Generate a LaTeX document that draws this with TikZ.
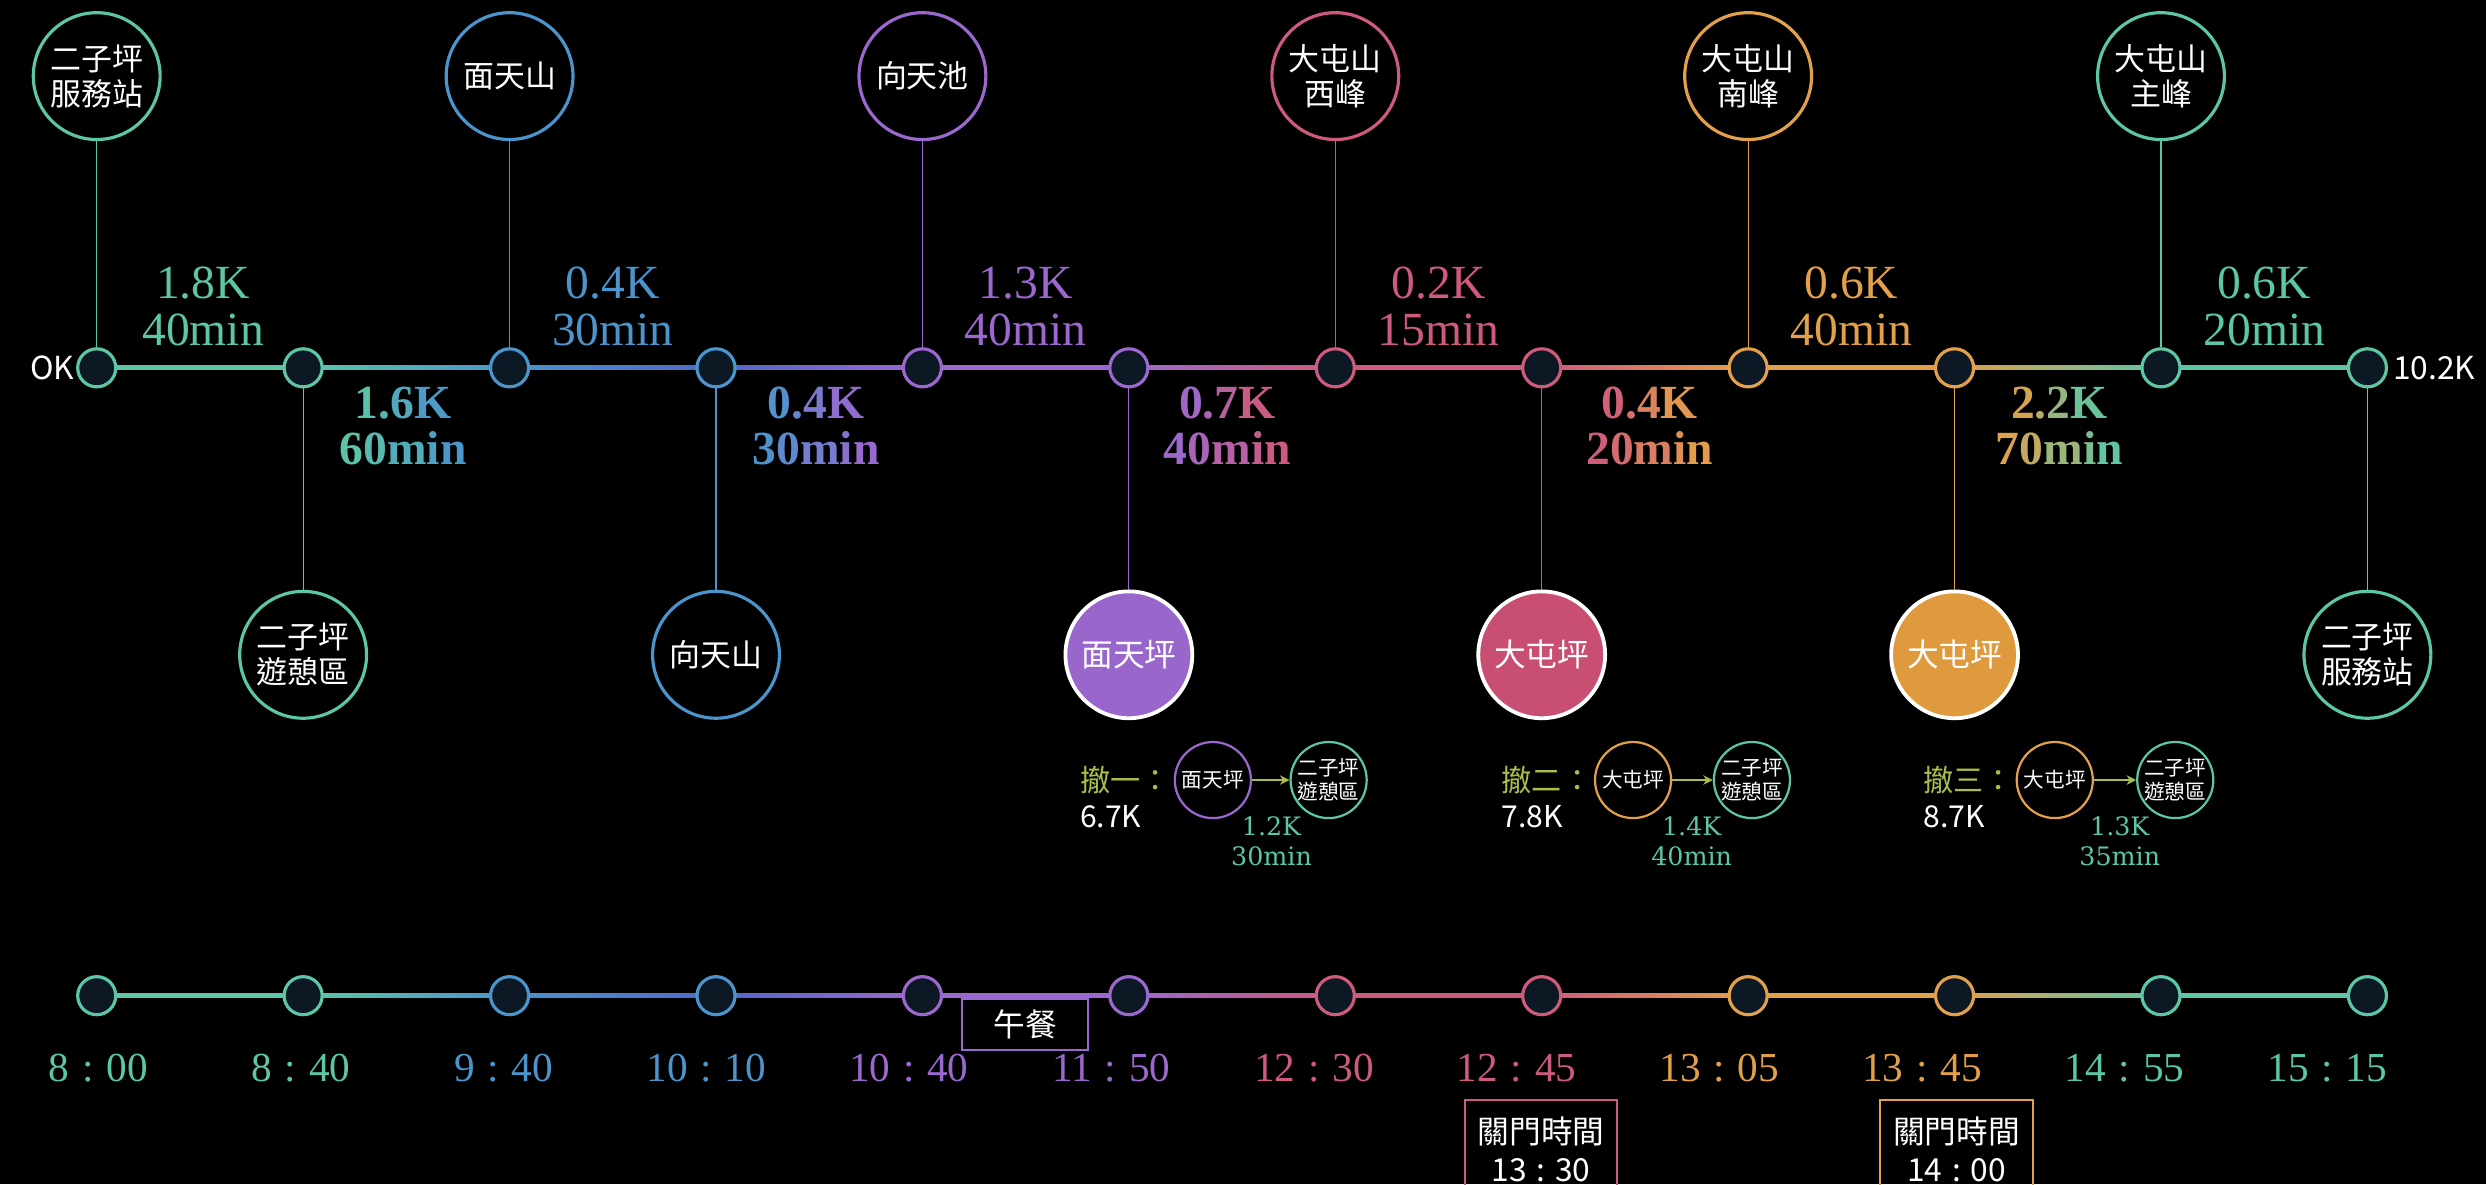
\documentclass[tikz,border=0pt]{standalone}
\usepackage{fontspec}
\setmainfont{Liberation Serif}
\newfontfamily\cjk{Noto Sans CJK TC}
\newfontfamily\slab{DejaVu Serif}
\usetikzlibrary{calc,arrows.meta}
\pgfdeclarelayer{back}
\pgfdeclarelayer{bars}
\pgfsetlayers{back,bars,main}

\definecolor{cg}{HTML}{5CC6A6}
\definecolor{cb}{HTML}{4B94CC}
\definecolor{cbv}{HTML}{5068C8}
\definecolor{cp}{HTML}{9B68CF}
\definecolor{ck}{HTML}{CE5A7C}
\definecolor{co}{HTML}{E3A04A}
\definecolor{cy}{HTML}{A8BE48}
\definecolor{nodefill}{HTML}{0C1824}
\definecolor{fillp}{HTML}{9966CC}
\definecolor{fillk}{HTML}{C94F72}
\definecolor{fillo}{HTML}{E09A3E}

% colour of one character inside a two-colour gradient label
\newcommand\gr[4]{\textcolor{#2!#3!#1}{#4}}
\newcommand\gfour[6]{\gr{#1}{#2}{10}{#3}\gr{#1}{#2}{32}{#4}\gr{#1}{#2}{58}{#5}\gr{#1}{#2}{88}{#6}}
\newcommand\gfive[7]{\gr{#1}{#2}{4}{#3}\gr{#1}{#2}{26}{#4}\gr{#1}{#2}{52}{#5}\gr{#1}{#2}{76}{#6}\gr{#1}{#2}{96}{#7}}
% wide colon used in clock times
\newcommand\tcolon{\makebox[0.9em]{:}}

\tikzset{
  waypt/.style={circle, draw=#1, line width=2pt, fill=nodefill, minimum size=24pt, inner sep=0pt},
  peak/.style={circle, draw=#1, line width=2pt, fill=black, minimum size=80pt, inner sep=0pt,
    text=white, align=center, font=\cjk\fontsize{19.5}{22}\selectfont},
  camp/.style={circle, draw=white, line width=2.4pt, fill=#1, minimum size=80pt, inner sep=0pt,
    text=white, font=\cjk\fontsize{20}{24}\selectfont},
  stem/.style={draw=#1, line width=0.7pt},
  seglabel/.style={text=#1, anchor=base, align=center, inner sep=0pt, font=\fontsize{30}{30}\selectfont},
  boldlabel/.style={anchor=base, align=center, inner sep=0pt, font=\bfseries\fontsize{30}{29}\selectfont},
  minicirc/.style={circle, draw=#1, line width=1.4pt, fill=black, minimum size=48pt, inner sep=0pt,
    text=white, align=center, font=\cjk\fontsize{13}{15}\selectfont},
  retreatlbl/.style={anchor=west, inner sep=0pt, text=cy, font=\cjk\fontsize{19}{22}\selectfont},
  distlbl/.style={anchor=west, inner sep=0pt, text=white, font=\cjk\fontsize{19}{22}\selectfont},
  slablbl/.style={anchor=base, align=center, inner sep=0pt, text=cg, font=\slab\fontsize{16}{19}\selectfont},
  backarrow/.style={draw=cy, line width=1.4pt, -{Stealth[length=6pt,width=6pt]}},
  timelbl/.style={text=#1, anchor=base, inner sep=0pt, font=\fontsize{26}{26}\selectfont},
  notebox/.style={draw=#1, line width=1.3pt, text=white, align=center, inner sep=0pt,
    font=\cjk\fontsize{20}{24}\selectfont},
  endlbl/.style={inner sep=0pt, text=white, font=\cjk\fontsize{20}{24}\selectfont}
}

\begin{document}
\begin{tikzpicture}[x=1pt, y=-1pt]
\useasboundingbox (0,0) rectangle (1568,747);
\begin{pgfonlayer}{back}
  \fill[black] (0,0) rectangle (1568,747);
\end{pgfonlayer}

% stations on the route line and on the clock line
\foreach \i/\col in {0/cg,1/cg,2/cb,3/cb,4/cp,5/cp,6/ck,7/ck,8/co,9/co,10/cg,11/cg}{
  \node[waypt=\col] (m\i) at ({61+130.2*\i},232) {};
  \node[waypt=\col] (t\i) at ({61+130.2*\i},628) {};
}

% coloured track between consecutive stations
\begin{pgfonlayer}{bars}
\foreach \a/\b/\p/\q in {0/1/cg/cg,1/2/cg/cb,2/3/cb/cbv,3/4/cbv/cp,4/5/cp/cp,5/6/cp/ck,
                         6/7/ck/ck,7/8/ck/co,8/9/co/co,9/10/co/cg,10/11/cg/cg}{
  \shade[left color=\p, right color=\q] ($(m\a.center)+(0,-1.2)$) rectangle ($(m\b.center)+(0,1.2)$);
  \shade[left color=\p, right color=\q] ($(t\a.center)+(0,-1.2)$) rectangle ($(t\b.center)+(0,1.2)$);
}
\end{pgfonlayer}

% start and end distances
\node[endlbl, anchor=east] (startk) at ($(m0.west)+(-1,0)$) {OK};
\node[endlbl, anchor=west] (endk) at ($(m11.east)+(3,0)$) {10.2K};

% peaks above the route
\node[peak=cg] (u0) at ($(m0)+(0,-184)$) {二子坪\\服務站};
\node[peak=cb] (u2) at ($(m2)+(0,-184)$) {面天山};
\node[peak=cp] (u4) at ($(m4)+(0,-184)$) {向天池};
\node[peak=ck] (u6) at ($(m6)+(0,-184)$) {大屯山\\西峰};
\node[peak=co] (u8) at ($(m8)+(0,-184)$) {大屯山\\南峰};
\node[peak=cg] (u10) at ($(m10)+(0,-184)$) {大屯山\\主峰};
\draw[stem=cg] (u0) -- (m0);
\draw[stem=cb] (u2) -- (m2);
\draw[stem=cp] (u4) -- (m4);
\draw[stem=ck] (u6) -- (m6);
\draw[stem=co] (u8) -- (m8);
\draw[stem=cg] (u10) -- (m10);

% places below the route
\node[peak=cg] (d1) at ($(m1)+(0,181)$) {二子坪\\遊憩區};
\node[peak=cb] (d3) at ($(m3)+(0,181)$) {向天山};
\node[camp=fillp] (d5) at ($(m5)+(0,181)$) {面天坪};
\node[camp=fillk] (d7) at ($(m7)+(0,181)$) {大屯坪};
\node[camp=fillo] (d9) at ($(m9)+(0,181)$) {大屯坪};
\node[peak=cg] (d11) at ($(m11)+(0,181)$) {二子坪\\服務站};
\draw[stem=cg] (m1) -- (d1);
\draw[stem=cb] (m3) -- (d3);
\draw[stem=cp] (m5) -- (d5);
\draw[stem=ck] (m7) -- (d7);
\draw[stem=co] (m9) -- (d9);
\draw[stem=cg] (m11) -- (d11);

% leg distances and times above the track (anchor = baseline of the last line)
\node[seglabel=cg] (l0) at ($(m0)!0.5!(m1)+(2,-14)$) {1.8K\\40min};
\node[seglabel=cb] (l2) at ($(m2)!0.5!(m3)+(0,-14)$) {0.4K\\30min};
\node[seglabel=cp] (l4) at ($(m4)!0.5!(m5)+(0,-14)$) {1.3K\\40min};
\node[seglabel=ck] (l6) at ($(m6)!0.5!(m7)+(0,-14)$) {0.2K\\15min};
\node[seglabel=co] (l8) at ($(m8)!0.5!(m9)+(0,-14)$) {0.6K\\40min};
\node[seglabel=cg] (l10) at ($(m10)!0.5!(m11)+(0,-14)$) {0.6K\\20min};

% leg distances and times below the track
\node[boldlabel] (l1) at ($(m1)!0.5!(m2)+(-2,61)$) {\gfour{cg}{cb}{1}{.}{6}{K}\\\gfive{cg}{cb}{6}{0}{m}{i}{n}};
\node[boldlabel] (l3) at ($(m3)!0.5!(m4)+(-2,61)$) {\gfour{cb}{cp}{0}{.}{4}{K}\\\gfive{cb}{cp}{3}{0}{m}{i}{n}};
\node[boldlabel] (l5) at ($(m5)!0.5!(m6)+(-3,61)$) {\gfour{cp}{ck}{0}{.}{7}{K}\\\gfive{cp}{ck}{4}{0}{m}{i}{n}};
\node[boldlabel] (l7) at ($(m7)!0.5!(m8)+(3,61)$) {\gfour{ck}{co}{0}{.}{4}{K}\\\gfive{ck}{co}{2}{0}{m}{i}{n}};
\node[boldlabel] (l9) at ($(m9)!0.5!(m10)+(1,61)$) {\gfour{co}{cg}{2}{.}{2}{K}\\\gfive{co}{cg}{7}{0}{m}{i}{n}};

% escape routes
\node[retreatlbl] (r1) at (681,492) {撤一：};
\node[distlbl] (k1) at (681,515) {6.7K};
\node[minicirc=cp] (a1) at (765,492) {面天坪};
\node[minicirc=cg] (b1) at (838,492) {二子坪\\遊憩區};
\draw[backarrow] (a1) -- (b1);
\node[slablbl] (s1) at (802,546) {1.2K\\30min};

\node[retreatlbl] (r2) at (947,492) {撤二：};
\node[distlbl] (k2) at (947,515) {7.8K};
\node[minicirc=co] (a2) at (1030,492) {大屯坪};
\node[minicirc=cg] (b2) at (1105,492) {二子坪\\遊憩區};
\draw[backarrow] (a2) -- (b2);
\node[slablbl] (s2) at (1067,546) {1.4K\\40min};

\node[retreatlbl] (r3) at (1213,492) {撤三：};
\node[distlbl] (k3) at (1213,515) {8.7K};
\node[minicirc=co] (a3) at (1296,492) {大屯坪};
\node[minicirc=cg] (b3) at (1372,492) {二子坪\\遊憩區};
\draw[backarrow] (a3) -- (b3);
\node[slablbl] (s3) at (1337,546) {1.3K\\35min};

% clock times
\foreach \i/\col/\h/\mm in {0/cg/8/00,1/cg/8/40,2/cb/9/40,3/cb/10/10,4/cp/10/40,5/cp/11/50,
                            6/ck/12/30,7/ck/12/45,8/co/13/05,9/co/13/45,10/cg/14/55,11/cg/15/15}{
  \node[timelbl=\col] (h\i) at ({62+127.8*\i},682) {\h\tcolon\mm};
}

% lunch and closing-time notes
\node[notebox=cp, minimum width=79pt, minimum height=32pt] (lunch) at (646.5,646) {午餐};
\node[notebox=ck, minimum width=96pt, minimum height=62pt, anchor=north] (close1) at (972,693) {關門時間\\13\tcolon30};
\node[notebox=co, minimum width=96pt, minimum height=62pt, anchor=north] (close2) at (1234,693) {關門時間\\14\tcolon00};
\end{tikzpicture}
\end{document}
